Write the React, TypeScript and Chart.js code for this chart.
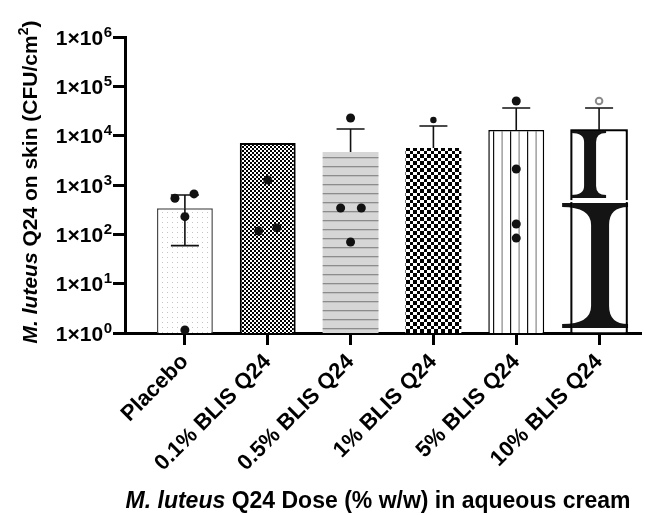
import React, { useEffect, useRef } from "react";
import { Chart, registerables } from "chart.js";
Chart.register(...registerables);

const categories = ["Placebo", "0.1% BLIS Q24", "0.5% BLIS Q24", "1% BLIS Q24", "5% BLIS Q24", "10% BLIS Q24"];
const means = [337, 7100, 4670, 5630, 13000, 13000];
const errHigh: (number | null)[] = [627, null, 13650, 15700, 36400, 36400];
const errLow: (number | null)[] = [59, null, null, null, null, null];
const pointGroup = [0, 0, 0, 0, 1, 1, 1, 2, 2, 2, 2, 3, 4, 4, 4, 4, 5];
const pointOffset = [-0.12, 0.11, 0, 0, 0, -0.11, 0.11, 0, -0.12, 0.13, 0, 0, 0, 0, 0, 0, 0];
const pointValues = [540, 660, 228, 1.15, 1260, 117, 135, 22800, 342, 342, 70, 20800, 50500, 2110, 162, 84, 50500];
const yTickExponents = [0, 1, 2, 3, 4, 5, 6];
const yTitleParts = ["M. luteus", " Q24 on skin (CFU/cm", "2", ")"];
const xTitleParts = ["M. luteus", " Q24 Dose (% w/w) in aqueous cream"];

const FAM = '"Liberation Sans", Arial, Helvetica, sans-serif';

function makePattern(w: number, h: number, draw: (c: CanvasRenderingContext2D) => void) {
  const cv = document.createElement("canvas");
  cv.width = w;
  cv.height = h;
  const c = cv.getContext("2d")!;
  draw(c);
  return c.createPattern(cv, "repeat")!;
}

function drawI(ctx: CanvasRenderingContext2D, cx: number, sl: number, sr: number, top: number, bottom: number, stemW: number, t: number, f: number) {
  const l = cx - stemW / 2;
  const r = cx + stemW / 2;
  ctx.beginPath();
  ctx.moveTo(sl, top);
  ctx.lineTo(sr, top);
  ctx.lineTo(sr, top + t);
  ctx.quadraticCurveTo(r, top + t, r, top + t + f);
  ctx.lineTo(r, bottom - t - f);
  ctx.quadraticCurveTo(r, bottom - t, sr, bottom - t);
  ctx.lineTo(sr, bottom);
  ctx.lineTo(sl, bottom);
  ctx.lineTo(sl, bottom - t);
  ctx.quadraticCurveTo(l, bottom - t, l, bottom - t - f);
  ctx.lineTo(l, top + t + f);
  ctx.quadraticCurveTo(l, top + t, sl, top + t);
  ctx.closePath();
  ctx.fill();
}

export default function App() {
  const ref = useRef<HTMLCanvasElement | null>(null);
  useEffect(() => {
    document.body.style.margin = "0";
    const canvas = ref.current!;
    const pDots = makePattern(5, 5, (c) => {
      c.fillStyle = "#fff";
      c.fillRect(0, 0, 5, 5);
      c.fillStyle = "#c4c4c4";
      c.fillRect(2, 2, 1, 1);
    });
    const pFine = makePattern(4, 4, (c) => {
      c.fillStyle = "#fff";
      c.fillRect(0, 0, 4, 4);
      c.fillStyle = "#000";
      c.fillRect(0, 0, 2, 2);
      c.fillRect(2, 2, 2, 2);
    });
    const pHoriz = makePattern(9, 9, (c) => {
      c.fillStyle = "#d6d6d6";
      c.fillRect(0, 0, 9, 9);
      c.fillStyle = "#8c8c8c";
      c.fillRect(0, 4, 9, 1.3);
    });
    const pChecker = makePattern(7, 7, (c) => {
      c.fillStyle = "#fff";
      c.fillRect(0, 0, 7, 7);
      c.fillStyle = "#000";
      c.fillRect(0, 0, 4, 4);
      c.fillRect(4, 4, 3, 3);
    });
    const pVert = makePattern(17, 17, (c) => {
      c.fillStyle = "#fff";
      c.fillRect(0, 0, 17, 17);
      c.fillStyle = "#111";
      c.fillRect(0, 0, 1.2, 17);
      c.fillStyle = "#888";
      c.fillRect(8.5, 0, 1.2, 17);
    });

    const extras = {
      id: "extras",
      afterDatasetDraw(chart: any, args: any) {
        if (args.index !== 0) return;
        const ctx = chart.ctx as CanvasRenderingContext2D;
        const ys = chart.scales.y;
        const meta = chart.getDatasetMeta(0);
        const last = meta.data[meta.data.length - 1];
        if (last) {
          const { x, y, base, width } = last.getProps(["x", "y", "base", "width"], true);
          const h = base - y;
          const L = x - width / 2;
          const R = x + width / 2;
          ctx.save();
          ctx.fillStyle = "#141414";
          drawI(ctx, x - 9, L, x + 7, y, y + 0.335 * h, 12, 3, 9);
          drawI(ctx, x + 1, L - 9, R + 1, y + 0.36 * h, base - 5, 18, 4, 18);
          ctx.strokeStyle = "#000";
          ctx.lineWidth = 1.5;
          ctx.strokeRect(L, y, width, h);
          ctx.fillStyle = "#fff";
          ctx.fillRect(L - 10, y + 0.345 * h, width + 12, 2);
          ctx.restore();
        }
        ctx.save();
        ctx.strokeStyle = "#111";
        ctx.lineWidth = 1.6;
        meta.data.forEach((bar: any, i: number) => {
          const { x, y } = bar.getProps(["x", "y"], true);
          const ends = [errHigh[i], errLow[i]];
          ends.forEach((v) => {
            if (v == null) return;
            const py = ys.getPixelForValue(v);
            ctx.beginPath();
            ctx.moveTo(x, y);
            ctx.lineTo(x, py);
            ctx.moveTo(x - 14, py);
            ctx.lineTo(x + 14, py);
            ctx.stroke();
          });
        });
        ctx.restore();
      },
      afterDraw(chart: any) {
        const ctx = chart.ctx as CanvasRenderingContext2D;
        const ys = chart.scales.y;
        ctx.save();
        ctx.fillStyle = "#000";
        ctx.textBaseline = "alphabetic";
        yTickExponents.forEach((e) => {
          const py = ys.getPixelForValue(Math.pow(10, e));
          const right = ys.right - 13;
          ctx.font = `bold 15px ${FAM}`;
          const sup = String(e);
          const sw = ctx.measureText(sup).width;
          ctx.textAlign = "left";
          ctx.fillText(sup, right - sw, py - 0.5);
          ctx.font = `bold 21px ${FAM}`;
          ctx.textAlign = "right";
          ctx.fillText("1×10", right - sw - 0.5, py + 7.5);
        });
        const segs = [
          { t: yTitleParts[0], f: `italic bold 21px ${FAM}`, dy: 0 },
          { t: yTitleParts[1], f: `bold 21px ${FAM}`, dy: 0 },
          { t: yTitleParts[2], f: `bold 14px ${FAM}`, dy: -9 },
          { t: yTitleParts[3], f: `bold 21px ${FAM}`, dy: 0 },
        ];
        let total = 0;
        segs.forEach((s) => {
          ctx.font = s.f;
          total += ctx.measureText(s.t).width;
        });
        ctx.translate(37, 182);
        ctx.rotate(-Math.PI / 2);
        ctx.textAlign = "left";
        let cx = -total / 2;
        segs.forEach((s) => {
          ctx.font = s.f;
          ctx.fillText(s.t, cx, s.dy);
          cx += ctx.measureText(s.t).width;
        });
        ctx.setTransform(1, 0, 0, 1, 0, 0);
        const xs = [
          { t: xTitleParts[0], f: `italic bold 23px ${FAM}` },
          { t: xTitleParts[1], f: `bold 23px ${FAM}` },
        ];
        let tw = 0;
        xs.forEach((s) => {
          ctx.font = s.f;
          tw += ctx.measureText(s.t).width;
        });
        let xx = 378 - tw / 2;
        xs.forEach((s) => {
          ctx.font = s.f;
          ctx.fillText(s.t, xx, 508);
          xx += ctx.measureText(s.t).width;
        });
        ctx.restore();
      },
    };

    const chart = new Chart(canvas, {
      data: {
        datasets: [
          {
            type: "bar",
            data: means.map((m, i) => ({ x: i, y: m })),
            backgroundColor: [pDots, pFine, pHoriz, pChecker, pVert, "#ffffff"],
            borderColor: ["#4a4a4a", "#000", "#c8c8c8", "#000", "#000", "#000"],
            borderWidth: [1.5, 2, 0, 0, 1.5, 1.5],
            borderSkipped: "start",
            barPercentage: 0.675,
            categoryPercentage: 1,
            order: 2,
          } as any,
          {
            type: "scatter",
            data: pointValues.map((v, i) => ({ x: pointGroup[i] + pointOffset[i], y: v })),
            pointRadius: (c: any) => (pointGroup[c.dataIndex] === 3 ? 3.2 : pointGroup[c.dataIndex] === 5 ? 3.3 : 4.5),
            pointBackgroundColor: (c: any) => (pointGroup[c.dataIndex] === 5 ? "#ffffff" : "#111"),
            pointBorderColor: (c: any) => (pointGroup[c.dataIndex] === 5 ? "#8a8a8a" : "#111"),
            pointBorderWidth: (c: any) => (pointGroup[c.dataIndex] === 5 ? 2 : 0),
            clip: false,
            order: 1,
          } as any,
        ],
      },
      options: {
        responsive: false,
        animation: false,
        devicePixelRatio: 1,
        layout: { padding: { top: 37, right: 5, left: 0, bottom: 0 } },
        plugins: { legend: { display: false }, tooltip: { enabled: false } },
        scales: {
          x: {
            type: "linear",
            offset: false,
            min: -0.723,
            max: 5.506,
            afterBuildTicks: (s: any) => {
              s.ticks = categories.map((_, i) => ({ value: i }));
            },
            afterFit: (s: any) => {
              s.height = 182;
            },
            grid: { display: true, offset: false, drawOnChartArea: false, tickLength: 12, tickWidth: 3, tickColor: "#000" },
            border: { color: "#000", width: 3 },
            ticks: {
              minRotation: 45,
              maxRotation: 45,
              autoSkip: false,
              padding: 4,
              color: "#000",
              font: { family: FAM, size: 22, weight: "bold" },
              callback: (v: any) => categories[v] ?? "",
            },
          },
          y: {
            type: "logarithmic",
            min: 1,
            max: 1e6,
            afterBuildTicks: (s: any) => {
              s.ticks = yTickExponents.map((e) => ({ value: Math.pow(10, e) }));
            },
            afterFit: (s: any) => {
              s.width = 125;
            },
            grid: { display: true, drawOnChartArea: false, tickLength: 12, tickWidth: 3, tickColor: "#000" },
            border: { color: "#000", width: 3 },
            ticks: { display: false },
          },
        },
      } as any,
      plugins: [extras],
    });
    return () => chart.destroy();
  }, []);
  return <canvas ref={ref} width={647} height={515} style={{ display: "block" }} />;
}
